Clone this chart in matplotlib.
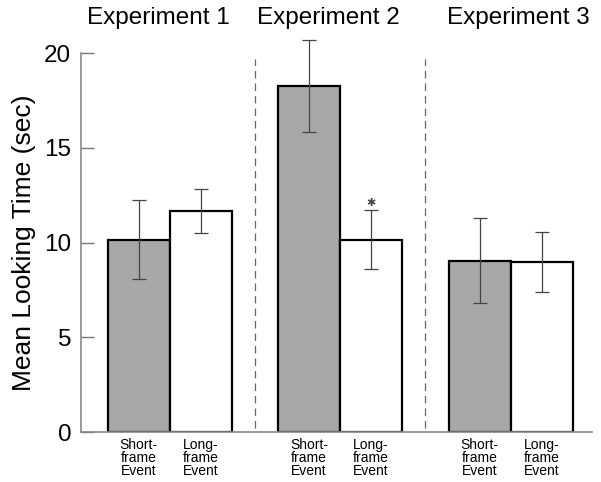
import matplotlib
matplotlib.use("Agg")
import matplotlib.pyplot as plt
import numpy as np

plt.rcParams["font.family"] = ["Liberation Sans", "DejaVu Sans"]

EXPERIMENTS = ["Experiment 1", "Experiment 2", "Experiment 3"]
CONDITIONS = ["Short-\nframe\nEvent", "Long-\nframe\nEvent"]
SHORT_MEAN = [10.15, 18.25, 9.05]
SHORT_ERR = [2.1, 2.43, 2.25]
LONG_MEAN = [11.65, 10.15, 8.95]
LONG_ERR = [1.17, 1.55, 1.58]
SIGNIFICANT = [False, True, False]  # long-frame asterisk

fig = plt.figure(figsize=(6.01, 4.82), dpi=100)
ax = fig.add_axes([0.1348, 0.1037, 0.8502, 0.7863])

gap = 2.75
xs = np.arange(3) * gap
xl = xs + 1
ekw = dict(ecolor="#444444", elinewidth=0.9, capsize=5, capthick=0.9, clip_on=False)
ax.bar(xs, SHORT_MEAN, width=1, color="#a8a8a8", edgecolor="black", lw=1.6,
       yerr=SHORT_ERR, error_kw=ekw, zorder=2)
ax.bar(xl, LONG_MEAN, width=1, color="white", edgecolor="black", lw=1.6,
       yerr=LONG_ERR, error_kw=ekw, zorder=2)
for x, m, e, s in zip(xl, LONG_MEAN, LONG_ERR, SIGNIFICANT):
    if s:
        ax.text(x, m + e + 0.1, "✱", ha="center", va="bottom", fontsize=8, color="#444444")

for i in range(2):
    ax.axvline((xl[i] + xs[i + 1]) / 2, ymin=0.01, ymax=0.985, color="#666666",
               ls=(0, (6, 4)), lw=0.9)

# group headings sit slightly off the group centres in the original
for fx, name in zip([0.263, 0.547, 0.862], EXPERIMENTS):
    fig.text(fx, 0.963, name, ha="center", va="center", fontsize=17.5)

ax.set_xlim(-0.927, 7.31)
ax.set_ylim(0, 20)
ax.set_yticks([0, 5, 10, 15, 20])
ax.set_xticks(np.ravel(np.column_stack([xs, xl])))
ax.set_xticklabels(CONDITIONS * 3, fontsize=10, linespacing=0.95)
ax.tick_params(axis="x", length=0, pad=4)
ax.tick_params(axis="y", direction="in", length=9, width=1, color="#777777",
               labelsize=17.5, pad=7)
for s in ["top", "right"]:
    ax.spines[s].set_visible(False)
for s in ["left", "bottom"]:
    ax.spines[s].set_color("#888888")
    ax.spines[s].set_linewidth(1.2)
ax.set_ylabel("Mean Looking Time (sec)", fontsize=19, labelpad=6)

fig.savefig("out.png", dpi=100)
